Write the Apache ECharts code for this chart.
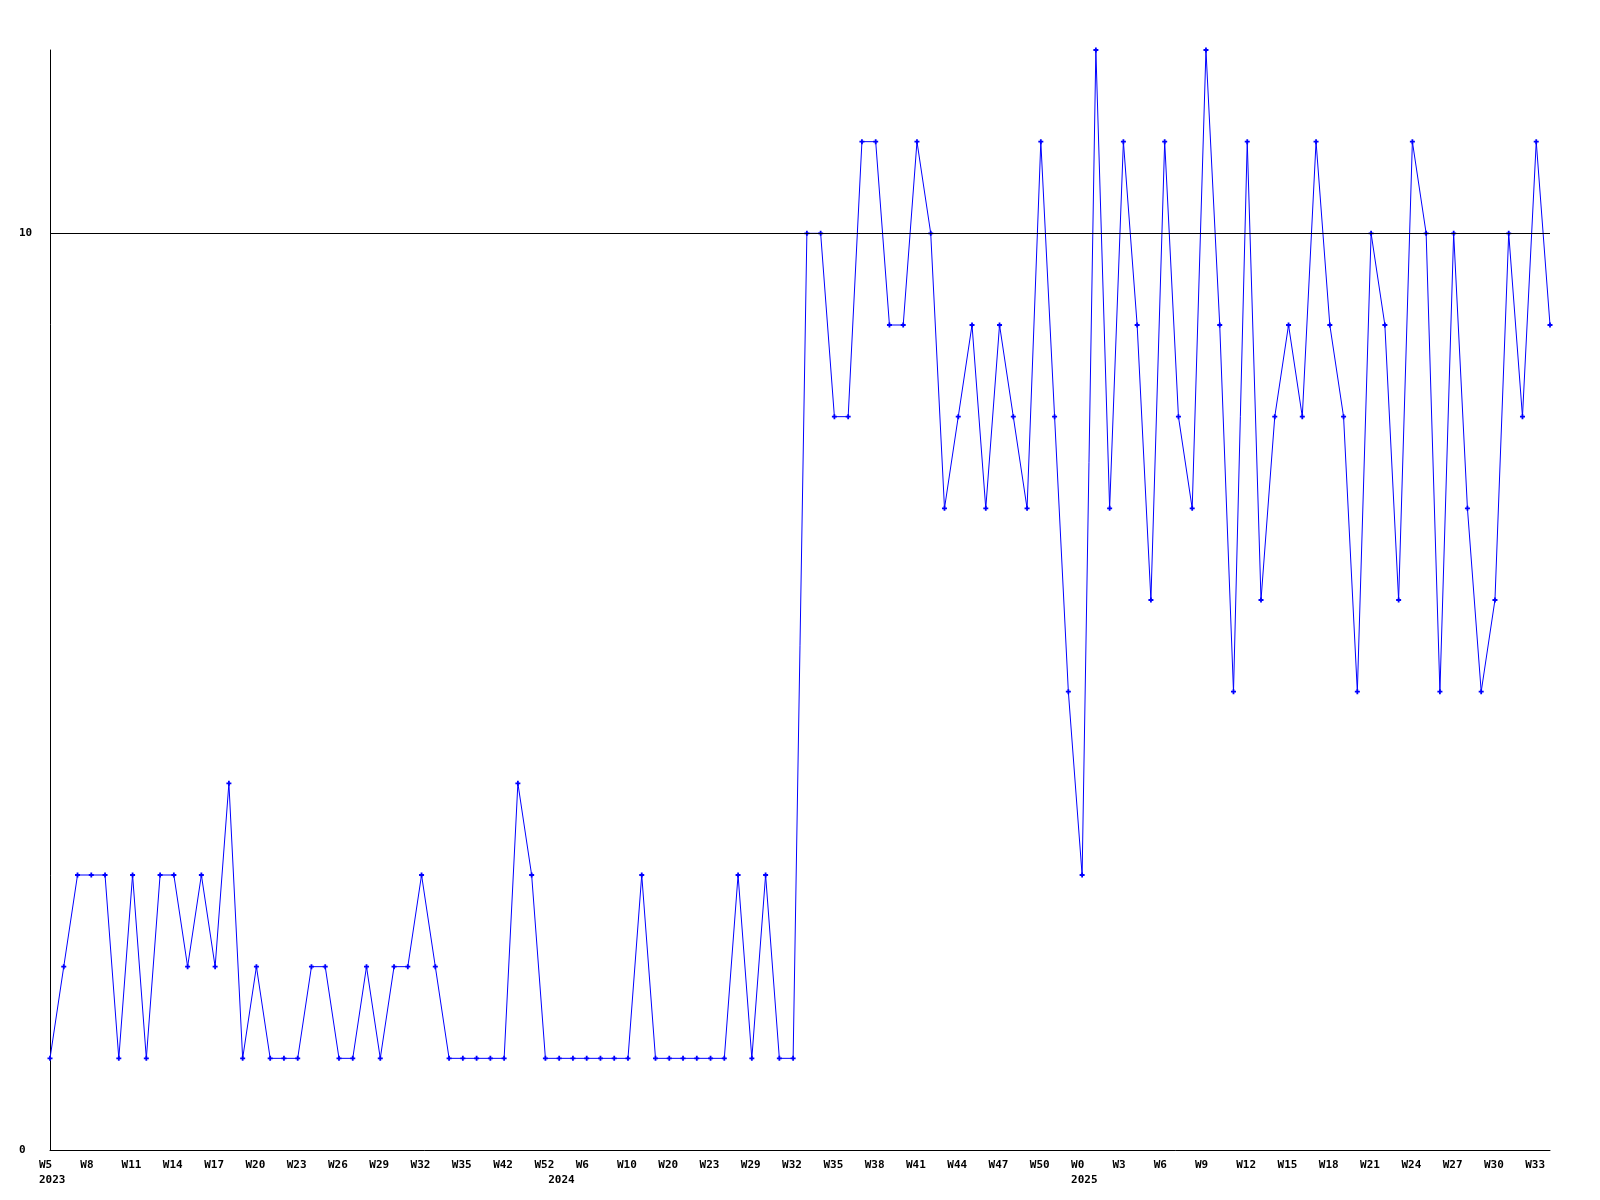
<!DOCTYPE html>
<html>
<head>
<meta charset="utf-8">
<script src="https://cdn.jsdelivr.net/npm/echarts@6/dist/echarts.min.js"></script>
<style>
  html, body { margin: 0; padding: 0; background: #fff; }
  #chart { width: 1600px; height: 1200px; }
</style>
</head>
<body>
<div id="chart"></div>
<script>
// Categories: year-week
const categories = [
  '2023-W5','2023-W6','2023-W7','2023-W8','2023-W9','2023-W10','2023-W11','2023-W12','2023-W13','2023-W14',
  '2023-W15','2023-W16','2023-W17','2023-W18','2023-W19','2023-W20','2023-W21','2023-W22','2023-W23','2023-W24',
  '2023-W25','2023-W26','2023-W27','2023-W28','2023-W29','2023-W30','2023-W31','2023-W32','2023-W33','2023-W34',
  '2023-W35','2023-W37','2023-W40','2023-W42','2023-W45','2023-W48','2023-W52',
  '2024-W0','2024-W3','2024-W6','2024-W7','2024-W8','2024-W10','2024-W13','2024-W17','2024-W20','2024-W21',
  '2024-W22','2024-W23','2024-W25','2024-W27','2024-W29','2024-W30','2024-W31','2024-W32','2024-W33','2024-W34',
  '2024-W35','2024-W36','2024-W37','2024-W38','2024-W39','2024-W40','2024-W41','2024-W42','2024-W43','2024-W44',
  '2024-W45','2024-W46','2024-W47','2024-W48','2024-W49','2024-W50','2024-W51','2024-W52',
  '2025-W0','2025-W1','2025-W2','2025-W3','2025-W4','2025-W5','2025-W6','2025-W7','2025-W8','2025-W9',
  '2025-W10','2025-W11','2025-W12','2025-W13','2025-W14','2025-W15','2025-W16','2025-W17','2025-W18','2025-W19',
  '2025-W20','2025-W21','2025-W22','2025-W23','2025-W24','2025-W25','2025-W26','2025-W27','2025-W28','2025-W29',
  '2025-W30','2025-W31','2025-W32','2025-W33','2025-W34'
];

// Series values
const values = [
  1,2,3,3,3,1,3,1,3,3, 2,3,2,4,1,2,1,1,1,2, 2,1,1,2,1,2,2,3,2,1, 1,1,1,1,4,3,1,
  1,1,1,1,1,1,3,1,1,1,1,1,1,3,1,3,1,1,
  10,10,8,8,11,11,9,9,11,10, 7,8,9,7,9,8,7,11,8,5, 3,12,7,11,9,6,11,8,7,12,
  9,5,11,6,8,9,8,11,9,8, 5,10,9,6,11,10,5,10,7,5, 6,10,8,11,9
];

// Y axis range and reference line
const yMin = 0;
const yMax = 12;
const yTickStep = 10;
const referenceLine = 10;
const labelEvery = 3;

const FONT = 'DejaVu Sans Mono';

const chart = echarts.init(document.getElementById('chart'), null, { renderer: 'canvas' });

function yearOf(i) { return categories[i].split('-')[0]; }
function weekOf(i) { return categories[i].split('-')[1]; }

const option = {
  animation: false,
  backgroundColor: '#ffffff',
  grid: { left: 50, right: 50, top: 50, bottom: 50, containLabel: false },
  xAxis: {
    type: 'category',
    data: categories,
    boundaryGap: false,
    axisLine: { show: true, lineStyle: { color: '#000', width: 1 } },
    axisTick: { show: false },
    splitLine: { show: false },
    axisLabel: {
      interval: function (index) {
        return index % labelEvery === 0 || (index > 0 && yearOf(index) !== yearOf(index - 1));
      },
      formatter: function (value, index) {
        const showYear = index === 0 || yearOf(index) !== yearOf(index - 1);
        const wk = index % labelEvery === 0 ? weekOf(index) : '';
        return showYear ? wk + '\n' + yearOf(index) : wk;
      },
      align: 'left',
      padding: [0, 0, 0, -11],
      margin: 7,
      lineHeight: 15.5,
      fontFamily: FONT,
      fontWeight: 'bold',
      fontSize: 11,
      color: '#000'
    }
  },
  yAxis: {
    type: 'value',
    min: yMin,
    max: yMax,
    interval: yTickStep,
    axisLine: { show: true, lineStyle: { color: '#000', width: 1 } },
    axisTick: { show: false },
    splitLine: { show: false },
    axisLabel: {
      showMaxLabel: false,
      align: 'left',
      margin: 31,
      fontFamily: FONT,
      fontWeight: 'bold',
      fontSize: 11,
      color: '#000'
    }
  },
  series: [{
    type: 'line',
    data: values,
    color: '#0000ff',
    lineStyle: { color: '#0000ff', width: 1 },
    itemStyle: { color: '#0000ff' },
    symbol: 'path://M1.6 0H3.4V1.6H5V3.4H3.4V5H1.6V3.4H0V1.6H1.6Z',
    symbolSize: 5,
    showAllSymbol: true,
    silent: true,
    markLine: {
      silent: true,
      symbol: 'none',
      label: { show: false },
      lineStyle: { color: '#000', type: 'solid', width: 1 },
      data: [{ yAxis: referenceLine }]
    }
  }]
};

chart.setOption(option);
</script>
</body>
</html>
